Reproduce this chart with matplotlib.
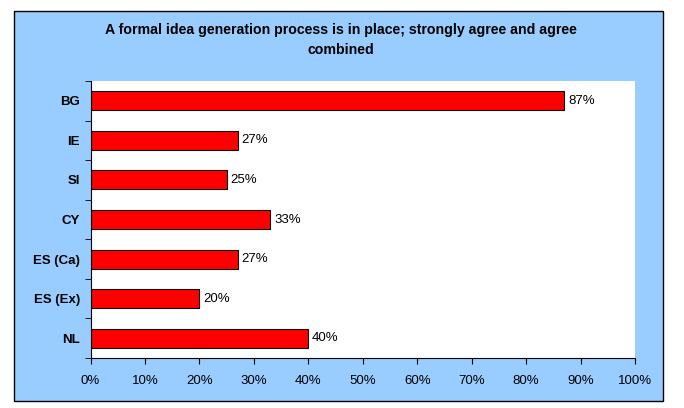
import matplotlib
matplotlib.use("Agg")
import matplotlib.pyplot as plt
from matplotlib.patches import Rectangle
from matplotlib.ticker import PercentFormatter

plt.rcParams['font.family'] = ['Liberation Sans', 'DejaVu Sans']

countries = ["BG", "IE", "SI", "CY", "ES (Ca)", "ES (Ex)", "NL"]
values = [87, 27, 25, 33, 27, 20, 40]
title = "A formal idea generation process is in place; strongly agree and agree\ncombined"

W, H = 684, 408
fig = plt.figure(figsize=(W / 100, H / 100), dpi=100)
fig.patch.set_facecolor("white")

# blue chart area box, kept behind the axes
box = Rectangle((14 / W, 1 - 401 / H), (663 - 14) / W, (401 - 11) / H,
                transform=fig.transFigure, facecolor="#99CCFF",
                edgecolor="black", linewidth=1.0, zorder=-5)
fig.patches.append(box)

ax = fig.add_axes([90.5 / W, 1 - 358 / H, 544.5 / W, 277 / H])
ax.set_facecolor("white")

pos = list(range(len(countries)))
ax.barh(pos, values, height=0.48, color="#FF0000", edgecolor="black", linewidth=0.8)
for p, v in zip(pos, values):
    ax.text(v + 0.7, p, f"{v}%", va="center", ha="left", fontsize=9.5)

ax.set_xlim(0, 100)
ax.set_ylim(len(countries) - 0.5, -0.5)
ax.set_xticks(range(0, 101, 10))
ax.xaxis.set_major_formatter(PercentFormatter(decimals=0))
ax.set_yticks(pos)
ax.set_yticklabels(countries, fontweight="bold")
ax.set_yticks([i - 0.5 for i in range(len(countries) + 1)], minor=True)
ax.tick_params(axis="x", labelsize=9.5, length=4, direction="out", pad=8)
ax.tick_params(axis="y", which="major", labelsize=9.5, length=0, pad=7.5)
ax.tick_params(axis="y", which="minor", length=4, direction="out")

for s in ["top", "right"]:
    ax.spines[s].set_visible(False)

fig.text(341 / W, 1 - 40 / H, title, ha="center", va="center",
         fontsize=10.2, fontweight="bold", linespacing=1.55)

fig.savefig("out.png", dpi=100)
